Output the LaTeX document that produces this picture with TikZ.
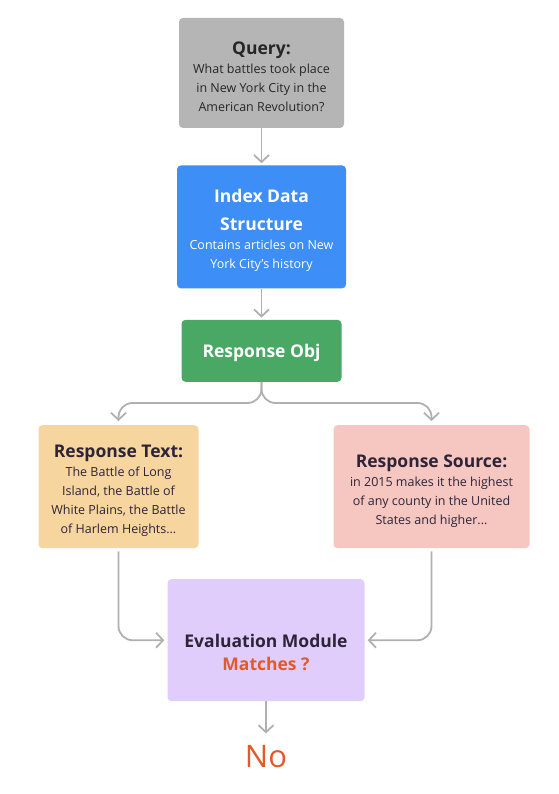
\documentclass[tikz,border=0pt]{standalone}
\usepackage{fontspec}
\setmainfont{Open Sans}
\usetikzlibrary{arrows.meta,positioning}
\usepackage{xcolor}
\definecolor{qgray}{HTML}{B5B5B5}
\definecolor{qtext}{HTML}{262626}
\definecolor{idxblue}{HTML}{3E8EF7}
\definecolor{objgreen}{HTML}{4AA865}
\definecolor{txtorange}{HTML}{F7D59E}
\definecolor{srcpink}{HTML}{F6C7C1}
\definecolor{evalpurple}{HTML}{E0CDFB}
\definecolor{dark}{HTML}{2D2438}
\definecolor{matchorange}{HTML}{E15A2A}
\definecolor{linegray}{HTML}{B0B0B0}
\newcommand{\bodyfont}{\fontsize{12.5}{19}\selectfont}
\newcommand{\hd}{\fontsize{17.5}{19}\selectfont\bfseries}
% extra room above the first line pushes the text block down
\newcommand{\lift}[1][21pt]{\rule{0pt}{#1}}
\tikzset{
  card/.style={rounded corners=4pt, align=center, inner sep=0pt, font=\bodyfont},
  querybox/.style={card, fill=qgray, text=qtext, minimum width=165pt, minimum height=110pt},
  indexbox/.style={card, fill=idxblue, text=white, minimum width=169pt, minimum height=123pt},
  objbox/.style={card, fill=objgreen, text=white, minimum width=160pt, minimum height=62pt},
  textbox/.style={card, fill=txtorange, text=dark, minimum width=160pt, minimum height=123pt},
  sourcebox/.style={card, fill=srcpink, text=dark, minimum width=196pt, minimum height=123pt},
  evalbox/.style={card, fill=evalpurple, text=dark, minimum width=197pt, minimum height=122pt},
  answer/.style={inner sep=0pt, text=matchorange, font=\fontsize{31}{36}\selectfont},
  conn/.style={-{Straight Barb[length=7pt,width=15pt]}, line width=1.8pt, draw=linegray, rounded corners=14pt}
}
\begin{document}
\begin{tikzpicture}[x=1pt,y=1pt,node distance=31pt]
  \useasboundingbox (0,0) rectangle (558,-794);
  \node[querybox] (q) at (261.5,-73) {{\hd\lift Query:}\\What battles took place\\in New York City in the\\American Revolution?};
  \node[indexbox, below=37pt of q] (idx) {{\hd\lift Index Data}\\[9pt]{\hd Structure}\\Contains articles on New\\York City’s history};
  \node[objbox, below=31pt of idx] (obj) {\hd\lift[17pt]Response Obj};
  \node[textbox, below=43pt of obj, xshift=-143pt] (rtext) {{\hd\lift Response Text:}\\The Battle of Long\\Island, the Battle of\\White Plains, the Battle\\of Harlem Heights...};
  \node[sourcebox, below=43pt of obj, xshift=170pt] (rsrc) {{\hd\lift Response Source:}\\in 2015 makes it the highest\\of any county in the United\\States and higher...};
  \node[evalbox, below=197pt of obj, xshift=4.5pt] (eval) {{\hd\lift[37pt]Evaluation Module}\\[4pt]{\hd\color{matchorange}Matches ?}};
  \node[answer, below=44pt of eval] (no) {No};
  % connectors
  \draw[conn, shorten >=2pt] (q) -- (idx);
  \draw[conn, shorten >=2pt] (idx) -- (obj);
  \draw[conn, shorten >=4pt] (obj.south) -- ++(0,-21) -| (rtext.north);
  \draw[conn, shorten >=4pt] (obj.south) -- ++(0,-21) -| (rsrc.north);
  \draw[conn, shorten >=3pt, shorten <=3pt] (rtext.south) |- (eval.west);
  \draw[conn, shorten >=3pt, shorten <=3pt] (rsrc.south) |- (eval.east);
  \draw[conn, shorten >=12pt] (eval) -- (no);
\end{tikzpicture}
\end{document}
